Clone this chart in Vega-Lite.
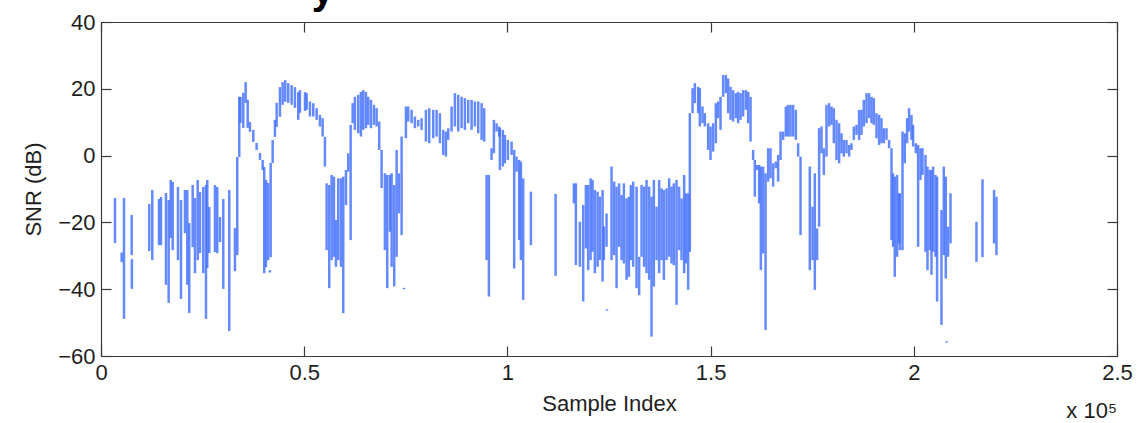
{
  "$schema": "https://vega.github.io/schema/vega-lite/v6.json",
  "autosize": {"type": "none"},
  "width": 1016,
  "height": 334,
  "padding": {"left": 101, "top": 22, "right": 29, "bottom": 67},
  "background": "white",
  "config": {
    "view": {"stroke": null},
    "font": "Liberation Sans",
    "axis": {
      "grid": false,
      "domainColor": "#3a3a3a",
      "domainWidth": 1.2,
      "tickColor": "#3a3a3a",
      "tickWidth": 1.2,
      "tickSize": -10,
      "labelFont": "Liberation Sans",
      "labelFontSize": 22,
      "labelColor": "#1e1e1e",
      "titleFont": "Liberation Sans",
      "titleFontSize": 22,
      "titleFontWeight": "normal",
      "titleColor": "#1e1e1e"
    }
  },
  "datasets": {
    "snr": [
      {"x": 3440, "hi": -12.7, "lo": -26.2},
      {"x": 5090, "hi": -29.0, "lo": -31.9},
      {"x": 5660, "hi": -12.7, "lo": -48.9},
      {"x": 7550, "hi": -17.8, "lo": -29.8},
      {"x": 7600, "hi": -31.0, "lo": -39.9},
      {"x": 11880, "hi": -14.5, "lo": -28.6},
      {"x": 12620, "hi": -10.3, "lo": -31.3},
      {"x": 14270, "hi": -13.0, "lo": -26.8},
      {"x": 14760, "hi": -12.4, "lo": -26.8},
      {"x": 15990, "hi": -11.2, "lo": -38.7},
      {"x": 16650, "hi": -13.3, "lo": -44.1},
      {"x": 17150, "hi": -7.3, "lo": -24.7},
      {"x": 17640, "hi": -7.9, "lo": -28.3},
      {"x": 18940, "hi": -9.4, "lo": -31.3},
      {"x": 19680, "hi": -13.3, "lo": -42.9},
      {"x": 20660, "hi": -10.3, "lo": -23.2},
      {"x": 21230, "hi": -10.3, "lo": -38.7},
      {"x": 21720, "hi": -20.2, "lo": -47.1},
      {"x": 22560, "hi": -8.8, "lo": -27.4},
      {"x": 23120, "hi": -12.7, "lo": -35.2},
      {"x": 23790, "hi": -7.3, "lo": -31.3},
      {"x": 24350, "hi": -10.9, "lo": -29.2},
      {"x": 25170, "hi": -9.4, "lo": -35.2},
      {"x": 25830, "hi": -8.8, "lo": -48.9},
      {"x": 26150, "hi": -7.3, "lo": -33.7},
      {"x": 26640, "hi": -15.4, "lo": -29.2},
      {"x": 28040, "hi": -8.8, "lo": -28.9},
      {"x": 28610, "hi": -9.4, "lo": -29.2},
      {"x": 29270, "hi": -18.4, "lo": -25.9},
      {"x": 30090, "hi": -13.0, "lo": -39.9},
      {"x": 31560, "hi": -10.3, "lo": -52.5},
      {"x": 32960, "hi": -21.7, "lo": -34.6},
      {"x": 33530, "hi": -0.4, "lo": -29.8},
      {"x": 34020, "hi": 17.6, "lo": -0.4},
      {"x": 34320, "hi": 17.6, "lo": 9.8},
      {"x": 35010, "hi": 18.8, "lo": 8.3},
      {"x": 35590, "hi": 22.0, "lo": 15.8},
      {"x": 36090, "hi": 16.7, "lo": 8.3},
      {"x": 36650, "hi": 10.1, "lo": 7.1},
      {"x": 37470, "hi": 7.7, "lo": 4.1},
      {"x": 38300, "hi": 3.8, "lo": 1.7},
      {"x": 39110, "hi": 0.8, "lo": -1.3},
      {"x": 39780, "hi": -1.3, "lo": -4.3},
      {"x": 40170, "hi": -3.4, "lo": -35.2},
      {"x": 40590, "hi": -7.3, "lo": -33.4},
      {"x": 41160, "hi": -8.2, "lo": -31.3},
      {"x": 41570, "hi": -34.3, "lo": -35.0},
      {"x": 41750, "hi": -2.2, "lo": -30.4},
      {"x": 42240, "hi": 4.7, "lo": -2.2},
      {"x": 42800, "hi": 10.7, "lo": 5.6},
      {"x": 43220, "hi": 15.8, "lo": 8.6},
      {"x": 44030, "hi": 20.5, "lo": 11.6},
      {"x": 44700, "hi": 22.0, "lo": 15.2},
      {"x": 45340, "hi": 22.6, "lo": 16.1},
      {"x": 46080, "hi": 21.7, "lo": 15.8},
      {"x": 46910, "hi": 21.1, "lo": 15.2},
      {"x": 47720, "hi": 20.5, "lo": 14.3},
      {"x": 48540, "hi": 19.0, "lo": 10.7},
      {"x": 48950, "hi": 19.6, "lo": 12.8},
      {"x": 50200, "hi": 19.0, "lo": 13.4},
      {"x": 50600, "hi": 18.7, "lo": 13.7},
      {"x": 51410, "hi": 16.2, "lo": 11.7},
      {"x": 52230, "hi": 15.7, "lo": 11.7},
      {"x": 53060, "hi": 14.2, "lo": 10.7},
      {"x": 53870, "hi": 12.2, "lo": 8.7},
      {"x": 54540, "hi": 11.2, "lo": 5.7},
      {"x": 55100, "hi": 5.6, "lo": -3.3},
      {"x": 55520, "hi": -8.3, "lo": -28.3},
      {"x": 56160, "hi": -8.8, "lo": -39.7},
      {"x": 56750, "hi": -5.8, "lo": -31.3},
      {"x": 57320, "hi": -6.3, "lo": -30.3},
      {"x": 57810, "hi": -19.3, "lo": -33.3},
      {"x": 58380, "hi": -6.8, "lo": -31.3},
      {"x": 59040, "hi": -6.8, "lo": -33.3},
      {"x": 59610, "hi": -6.3, "lo": -47.2},
      {"x": 60270, "hi": -4.3, "lo": -14.8},
      {"x": 60840, "hi": 0.7, "lo": -4.8},
      {"x": 61430, "hi": 9.2, "lo": -25.3},
      {"x": 61920, "hi": 15.7, "lo": 9.7},
      {"x": 62480, "hi": 17.6, "lo": 7.7},
      {"x": 63300, "hi": 18.2, "lo": 6.7},
      {"x": 63960, "hi": 19.1, "lo": 5.7},
      {"x": 64530, "hi": 19.6, "lo": 7.7},
      {"x": 65190, "hi": 19.1, "lo": 8.2},
      {"x": 65760, "hi": 17.6, "lo": 9.2},
      {"x": 66420, "hi": 16.7, "lo": 8.2},
      {"x": 67160, "hi": 15.2, "lo": 9.2},
      {"x": 67820, "hi": 14.2, "lo": 8.7},
      {"x": 68460, "hi": 10.2, "lo": 1.7},
      {"x": 69050, "hi": 1.7, "lo": -9.7},
      {"x": 69860, "hi": -5.3, "lo": -28.3},
      {"x": 70430, "hi": -5.8, "lo": -39.7},
      {"x": 71090, "hi": -5.8, "lo": -22.8},
      {"x": 71510, "hi": -5.3, "lo": -33.3},
      {"x": 72150, "hi": -8.8, "lo": -39.2},
      {"x": 72740, "hi": 1.7, "lo": -30.3},
      {"x": 73310, "hi": -5.3, "lo": -17.3},
      {"x": 73970, "hi": 5.7, "lo": -23.8},
      {"x": 74540, "hi": -39.6, "lo": -40.0},
      {"x": 75030, "hi": 14.7, "lo": 5.2},
      {"x": 75600, "hi": 14.7, "lo": 10.2},
      {"x": 76430, "hi": 13.7, "lo": 9.7},
      {"x": 77240, "hi": 11.7, "lo": 8.2},
      {"x": 78060, "hi": 10.7, "lo": 8.7},
      {"x": 78890, "hi": 11.2, "lo": 7.7},
      {"x": 79950, "hi": 13.7, "lo": 4.2},
      {"x": 80760, "hi": 14.2, "lo": 3.7},
      {"x": 81750, "hi": 13.7, "lo": 5.2},
      {"x": 82580, "hi": 13.7, "lo": 5.7},
      {"x": 83390, "hi": 12.7, "lo": 3.7},
      {"x": 84210, "hi": 7.7, "lo": 0.2},
      {"x": 84870, "hi": 7.2, "lo": -0.3},
      {"x": 85440, "hi": 8.2, "lo": 4.7},
      {"x": 86270, "hi": 14.7, "lo": 7.2},
      {"x": 87080, "hi": 18.7, "lo": 8.7},
      {"x": 87900, "hi": 18.2, "lo": 7.2},
      {"x": 88730, "hi": 17.6, "lo": 8.2},
      {"x": 89540, "hi": 17.2, "lo": 7.7},
      {"x": 90360, "hi": 16.7, "lo": 9.7},
      {"x": 91190, "hi": 16.7, "lo": 7.7},
      {"x": 92000, "hi": 16.2, "lo": 8.7},
      {"x": 92820, "hi": 16.2, "lo": 6.7},
      {"x": 93650, "hi": 15.7, "lo": 4.7},
      {"x": 94290, "hi": 14.2, "lo": 4.2},
      {"x": 94880, "hi": -5.8, "lo": -31.3},
      {"x": 95450, "hi": -5.8, "lo": -42.2},
      {"x": 96110, "hi": 2.2, "lo": -1.3},
      {"x": 96680, "hi": 10.7, "lo": 0.7},
      {"x": 97340, "hi": 9.7, "lo": 7.2},
      {"x": 97980, "hi": 8.7, "lo": 5.7},
      {"x": 98150, "hi": 8.2, "lo": -4.3},
      {"x": 98890, "hi": 7.7, "lo": -3.3},
      {"x": 99380, "hi": 6.2, "lo": -2.3},
      {"x": 100120, "hi": 4.7, "lo": -1.3},
      {"x": 101030, "hi": 4.2, "lo": 0.2},
      {"x": 101670, "hi": 1.7, "lo": -33.8},
      {"x": 102260, "hi": -0.3, "lo": -4.8},
      {"x": 102900, "hi": -1.3, "lo": -25.3},
      {"x": 103320, "hi": -1.8, "lo": -31.3},
      {"x": 103890, "hi": -6.8, "lo": -43.2},
      {"x": 105780, "hi": -10.8, "lo": -26.8},
      {"x": 111860, "hi": -11.5, "lo": -36.0},
      {"x": 116360, "hi": -8.3, "lo": -14.3},
      {"x": 116850, "hi": -8.3, "lo": -32.8},
      {"x": 117830, "hi": -19.8, "lo": -33.3},
      {"x": 118650, "hi": -14.8, "lo": -43.7},
      {"x": 119310, "hi": -8.8, "lo": -27.8},
      {"x": 119880, "hi": -8.8, "lo": -34.3},
      {"x": 120470, "hi": -6.8, "lo": -31.3},
      {"x": 120960, "hi": -7.3, "lo": -28.8},
      {"x": 121520, "hi": -10.3, "lo": -35.2},
      {"x": 122190, "hi": -10.8, "lo": -33.3},
      {"x": 122750, "hi": -12.3, "lo": -31.3},
      {"x": 123420, "hi": -10.3, "lo": -37.7},
      {"x": 123740, "hi": -21.2, "lo": -31.3},
      {"x": 124400, "hi": -17.3, "lo": -27.3},
      {"x": 124500, "hi": -46.0, "lo": -46.4},
      {"x": 125630, "hi": -3.3, "lo": -31.3},
      {"x": 126270, "hi": -7.8, "lo": -29.8},
      {"x": 126860, "hi": -9.3, "lo": -39.7},
      {"x": 127500, "hi": -8.3, "lo": -27.3},
      {"x": 128090, "hi": -11.8, "lo": -31.3},
      {"x": 128660, "hi": -8.3, "lo": -32.3},
      {"x": 129320, "hi": -12.8, "lo": -37.2},
      {"x": 129890, "hi": -12.3, "lo": -36.3},
      {"x": 130380, "hi": -8.8, "lo": -31.3},
      {"x": 130950, "hi": -7.8, "lo": -33.3},
      {"x": 131780, "hi": -9.3, "lo": -39.7},
      {"x": 132420, "hi": -30.3, "lo": -41.8},
      {"x": 133010, "hi": -8.8, "lo": -30.3},
      {"x": 133650, "hi": -9.3, "lo": -33.3},
      {"x": 134240, "hi": -7.3, "lo": -35.2},
      {"x": 134880, "hi": -9.3, "lo": -37.2},
      {"x": 135470, "hi": -12.3, "lo": -54.2},
      {"x": 136040, "hi": -7.3, "lo": -39.2},
      {"x": 136700, "hi": -15.3, "lo": -31.3},
      {"x": 137340, "hi": -7.3, "lo": -35.2},
      {"x": 137930, "hi": -9.8, "lo": -31.3},
      {"x": 138500, "hi": -10.3, "lo": -37.2},
      {"x": 139160, "hi": -9.8, "lo": -31.3},
      {"x": 139800, "hi": -6.8, "lo": -30.3},
      {"x": 140390, "hi": -9.3, "lo": -32.3},
      {"x": 140960, "hi": -8.3, "lo": -32.8},
      {"x": 141620, "hi": -7.3, "lo": -44.7},
      {"x": 142260, "hi": -9.3, "lo": -28.3},
      {"x": 142850, "hi": -12.8, "lo": -31.3},
      {"x": 143490, "hi": -5.8, "lo": -35.2},
      {"x": 143910, "hi": -11.3, "lo": -32.3},
      {"x": 144480, "hi": -11.3, "lo": -40.2},
      {"x": 144890, "hi": 12.7, "lo": -28.8},
      {"x": 145560, "hi": 20.2, "lo": 12.7},
      {"x": 146120, "hi": 21.7, "lo": 15.7},
      {"x": 146940, "hi": 20.6, "lo": 12.7},
      {"x": 147350, "hi": 20.2, "lo": 8.7},
      {"x": 148010, "hi": 14.7, "lo": 9.7},
      {"x": 148580, "hi": 12.7, "lo": 8.7},
      {"x": 149390, "hi": 9.7, "lo": 1.7},
      {"x": 149980, "hi": 8.7, "lo": -1.3},
      {"x": 150630, "hi": 9.7, "lo": 1.2},
      {"x": 151290, "hi": 15.7, "lo": 3.7},
      {"x": 151860, "hi": 16.2, "lo": 11.2},
      {"x": 152450, "hi": 17.6, "lo": 7.7},
      {"x": 153090, "hi": 24.1, "lo": 17.6},
      {"x": 153750, "hi": 24.1, "lo": 18.7},
      {"x": 154320, "hi": 23.1, "lo": 12.7},
      {"x": 154910, "hi": 20.6, "lo": 10.7},
      {"x": 155550, "hi": 19.6, "lo": 10.2},
      {"x": 156210, "hi": 18.7, "lo": 11.2},
      {"x": 156780, "hi": 19.1, "lo": 9.7},
      {"x": 157370, "hi": 18.7, "lo": 10.7},
      {"x": 158000, "hi": 19.6, "lo": 11.7},
      {"x": 158670, "hi": 19.6, "lo": 13.7},
      {"x": 159240, "hi": 19.1, "lo": 9.7},
      {"x": 159830, "hi": 17.6, "lo": 4.2},
      {"x": 160470, "hi": 1.7, "lo": -1.3},
      {"x": 160880, "hi": -1.3, "lo": -12.3},
      {"x": 161450, "hi": -2.8, "lo": -4.3},
      {"x": 161940, "hi": -2.8, "lo": -14.3},
      {"x": 162360, "hi": -3.3, "lo": -34.3},
      {"x": 162930, "hi": -3.3, "lo": -29.3},
      {"x": 163520, "hi": -5.3, "lo": -52.2},
      {"x": 164160, "hi": 2.2, "lo": -7.8},
      {"x": 164740, "hi": 2.2, "lo": -6.8},
      {"x": 165390, "hi": -2.3, "lo": -9.3},
      {"x": 166050, "hi": -1.8, "lo": -3.8},
      {"x": 166620, "hi": 0.2, "lo": -7.8},
      {"x": 167210, "hi": 7.2, "lo": -1.3},
      {"x": 167850, "hi": 7.2, "lo": 4.7},
      {"x": 168510, "hi": 14.7, "lo": 5.7},
      {"x": 169080, "hi": 15.2, "lo": 5.7},
      {"x": 169660, "hi": 15.2, "lo": 5.7},
      {"x": 170310, "hi": 15.2, "lo": 5.7},
      {"x": 170970, "hi": 13.7, "lo": 4.7},
      {"x": 171540, "hi": 3.7, "lo": -0.3},
      {"x": 172130, "hi": -0.3, "lo": -23.8},
      {"x": 174410, "hi": -3.3, "lo": -34.3},
      {"x": 175080, "hi": -15.3, "lo": -31.3},
      {"x": 175640, "hi": -5.3, "lo": -40.2},
      {"x": 176210, "hi": -21.8, "lo": -31.3},
      {"x": 176700, "hi": 8.2, "lo": -21.3},
      {"x": 177290, "hi": 8.7, "lo": 0.7},
      {"x": 177860, "hi": 2.2, "lo": -5.8},
      {"x": 178520, "hi": 15.2, "lo": -0.3},
      {"x": 179160, "hi": 15.7, "lo": 8.7},
      {"x": 179750, "hi": 14.7, "lo": 9.2},
      {"x": 180320, "hi": 14.2, "lo": 3.7},
      {"x": 180980, "hi": 10.7, "lo": -1.3},
      {"x": 181620, "hi": 9.7, "lo": -2.3},
      {"x": 182210, "hi": 6.7, "lo": 0.7},
      {"x": 182780, "hi": 4.7, "lo": -0.3},
      {"x": 183440, "hi": 4.7, "lo": 0.7},
      {"x": 184090, "hi": 3.2, "lo": -0.3},
      {"x": 184670, "hi": 3.7, "lo": 1.7},
      {"x": 185240, "hi": 8.7, "lo": 4.7},
      {"x": 185900, "hi": 9.2, "lo": 6.2},
      {"x": 186540, "hi": 13.7, "lo": 4.7},
      {"x": 187130, "hi": 13.7, "lo": 6.2},
      {"x": 187700, "hi": 16.7, "lo": 8.7},
      {"x": 188360, "hi": 18.7, "lo": 9.7},
      {"x": 189000, "hi": 18.7, "lo": 11.2},
      {"x": 189590, "hi": 17.6, "lo": 9.7},
      {"x": 190160, "hi": 17.2, "lo": 9.2},
      {"x": 190820, "hi": 12.7, "lo": 5.2},
      {"x": 191460, "hi": 12.2, "lo": 3.2},
      {"x": 192050, "hi": 11.2, "lo": 3.7},
      {"x": 192620, "hi": 8.2, "lo": 3.7},
      {"x": 193280, "hi": 8.2, "lo": 4.7},
      {"x": 193920, "hi": 4.7, "lo": 2.2},
      {"x": 194510, "hi": 2.2, "lo": -25.3},
      {"x": 194900, "hi": -5.3, "lo": -27.3},
      {"x": 195320, "hi": -6.3, "lo": -36.3},
      {"x": 195890, "hi": -5.8, "lo": -30.3},
      {"x": 196380, "hi": -11.3, "lo": -26.3},
      {"x": 196550, "hi": -11.3, "lo": -28.3},
      {"x": 197220, "hi": 7.2, "lo": -28.3},
      {"x": 197780, "hi": 6.7, "lo": -2.3},
      {"x": 198350, "hi": 11.2, "lo": 3.7},
      {"x": 198840, "hi": 14.2, "lo": 7.2},
      {"x": 199430, "hi": 12.2, "lo": 4.7},
      {"x": 199830, "hi": 9.2, "lo": 2.7},
      {"x": 200490, "hi": 3.7, "lo": 0.7},
      {"x": 201060, "hi": 3.2, "lo": -27.3},
      {"x": 201650, "hi": 2.2, "lo": -7.3},
      {"x": 202140, "hi": 2.2, "lo": -5.8},
      {"x": 202880, "hi": 0.2, "lo": -28.8},
      {"x": 203370, "hi": -3.3, "lo": -34.3},
      {"x": 203930, "hi": -4.3, "lo": -28.3},
      {"x": 204350, "hi": -4.3, "lo": -35.7},
      {"x": 204750, "hi": -3.3, "lo": -28.8},
      {"x": 205340, "hi": -5.8, "lo": -30.3},
      {"x": 205730, "hi": -6.3, "lo": -43.7},
      {"x": 206810, "hi": -16.3, "lo": -50.7},
      {"x": 207380, "hi": -3.3, "lo": -29.8},
      {"x": 207870, "hi": -6.3, "lo": -36.8},
      {"x": 208100, "hi": -55.6, "lo": -56.0},
      {"x": 208440, "hi": -21.3, "lo": -30.3},
      {"x": 209030, "hi": -11.3, "lo": -26.3},
      {"x": 215420, "hi": -19.8, "lo": -31.8},
      {"x": 216900, "hi": -7.1, "lo": -30.4},
      {"x": 219750, "hi": -10.3, "lo": -26.3},
      {"x": 220340, "hi": -12.3, "lo": -29.8}
    ]
  },
  "layer": [
    {
      "data": {"name": "snr"},
      "mark": {"type": "rule", "color": "#3f6dff", "strokeWidth": 2.5, "opacity": 0.8},
      "encoding": {
        "x": {
          "field": "x", "type": "quantitative",
          "scale": {"domain": [0, 250000], "nice": false, "zero": false},
          "axis": {
            "orient": "bottom",
            "values": [0, 50000, 100000, 150000, 200000, 250000],
            "labelExpr": "format(datum.value / 100000, '~g')",
            "labelPadding": 16,
            "labelFlush": false,
            "labelOverlap": false,
            "title": "Sample Index",
            "titlePadding": 10
          }
        },
        "y": {
          "field": "hi", "type": "quantitative",
          "scale": {"domain": [-60, 40], "nice": false, "zero": false},
          "axis": {
            "orient": "left",
            "values": [-60, -40, -20, 0, 20, 40],
            "labelPadding": 16,
            "labelOverlap": false,
            "title": "SNR (dB)",
            "titlePadding": 12
          }
        },
        "y2": {"field": "lo"}
      }
    },
    {
      "data": {"name": "snr"},
      "mark": {"type": "rule", "opacity": 0},
      "encoding": {
        "x": {
          "field": "x", "type": "quantitative",
          "axis": {
            "orient": "top",
            "values": [0, 50000, 100000, 150000, 200000, 250000],
            "labels": false,
            "title": null
          }
        },
        "y": {
          "field": "hi", "type": "quantitative",
          "axis": {
            "orient": "right",
            "values": [-60, -40, -20, 0, 20, 40],
            "labels": false,
            "title": null
          }
        },
        "y2": {"field": "lo"}
      }
    },
    {
      "data": {"values": [{"label": "x 10⁵"}]},
      "mark": {"type": "text", "align": "right", "baseline": "alphabetic", "dy": 62, "fontSize": 22, "font": "Liberation Sans", "color": "#1e1e1e"},
      "encoding": {
        "x": {"datum": 250000, "type": "quantitative", "axis": null},
        "y": {"datum": -60, "type": "quantitative", "axis": null},
        "text": {"field": "label"}
      }
    },
    {
      "data": {"values": [{"label": "y"}]},
      "mark": {"type": "text", "align": "center", "baseline": "alphabetic", "dy": -18, "fontSize": 40, "fontWeight": "bold", "font": "Liberation Sans", "color": "#000000"},
      "encoding": {
        "x": {"datum": 54600, "type": "quantitative", "axis": null},
        "y": {"datum": 40, "type": "quantitative", "axis": null},
        "text": {"field": "label"}
      }
    }
  ],
  "resolve": {"axis": {"x": "independent", "y": "independent"}}
}
